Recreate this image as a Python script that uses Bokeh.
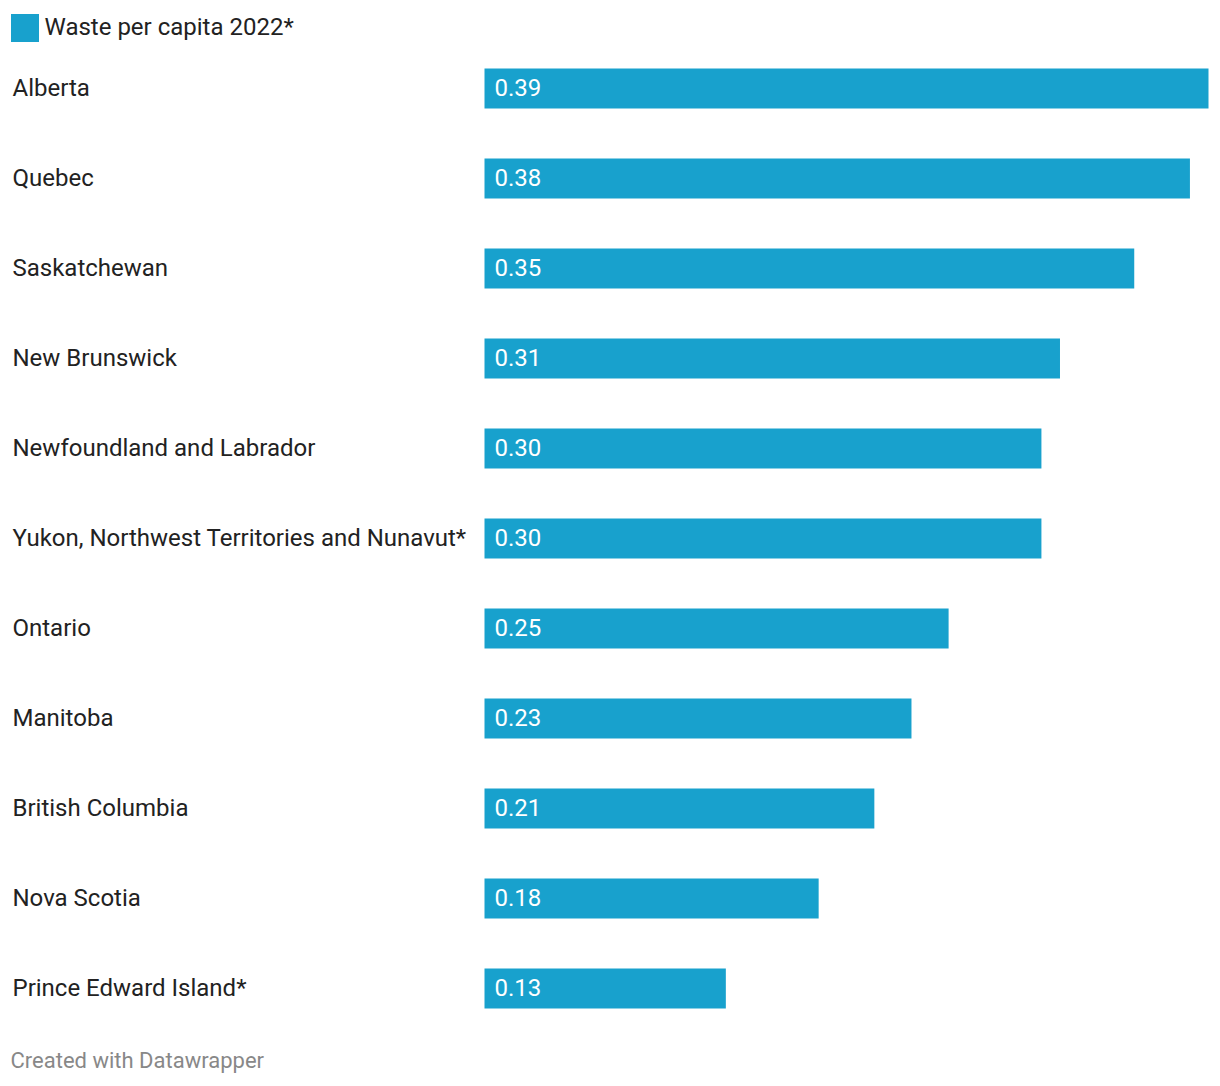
from bokeh.plotting import figure
from bokeh.models import Range1d, Label, ColumnDataSource
from bokeh.core.properties import value
from bokeh.embed import file_html
from bokeh.resources import INLINE

regions = ["Alberta", "Quebec", "Saskatchewan", "New Brunswick", "Newfoundland and Labrador",
           "Yukon, Northwest Territories and Nunavut*", "Ontario", "Manitoba",
           "British Columbia", "Nova Scotia", "Prince Edward Island*"]
waste = [0.39, 0.38, 0.35, 0.31, 0.30, 0.30, 0.25, 0.23, 0.21, 0.18, 0.13]
series_name = "Waste per capita 2022*"
credit = "Created with Datawrapper"

W, H = 1220, 1086
bar_left = 484          # canvas px where value 0 sits
bar_full = 724          # px for the max value
ppu = bar_full / max(waste)
x_start = -bar_left / ppu
x_end = (W - bar_left) / ppu
row = 90.0
first = 88.0
y_top = -first / row
y_bot = (H - first) / row

idx = list(range(len(regions)))
src = ColumnDataSource(dict(y=idx, v=waste, region=regions,
                            vlabel=["%.2f" % v for v in waste],
                            lx=[x_start] * len(regions), zero=[0] * len(regions)))

p = figure(width=W, height=H, output_backend="svg", toolbar_location=None,
           x_range=Range1d(x_start, x_end), y_range=Range1d(y_bot, y_top),
           min_border=0, min_border_left=0, min_border_right=0,
           min_border_top=0, min_border_bottom=0)
p.xaxis.visible = False
p.yaxis.visible = False
p.grid.visible = False
p.outline_line_color = None
p.background_fill_color = "white"
p.border_fill_color = "white"

color = "#18a1cd"
p.hbar(y="y", left=0, right="v", height=40 / row, source=src, fill_color=color,
       line_color=None, legend_label=series_name)

p.text(x="lx", y="y", text="region", source=src, x_offset=12, y_offset=-1,
       text_font=value("Roboto"), text_font_size="24px", text_color="#222222",
       text_baseline="middle", text_align="left")
p.text(x="zero", y="y", text="vlabel", source=src, x_offset=10, y_offset=-1,
       text_font=value("Roboto"), text_font_size="24px", text_color="white",
       text_baseline="middle", text_align="left")

lg = p.legend[0]
lg.location = (6.5, H - 44.5)
lg.glyph_width = 35
lg.glyph_height = 35
lg.padding = 0
lg.margin = 0
lg.spacing = 0
lg.label_standoff = 3
lg.label_text_font = "Roboto"
lg.label_text_font_size = "24px"
lg.label_text_color = "#222222"
lg.label_height = 35
lg.border_line_color = None
lg.background_fill_alpha = 0

p.add_layout(Label(x=10, y=H - 1060, x_units="screen", y_units="screen", text=credit,
                   text_font="Roboto", text_font_size="22px", text_color="#888888",
                   text_baseline="middle", text_align="left"))

open("out.html", "w").write(file_html(p, INLINE))
